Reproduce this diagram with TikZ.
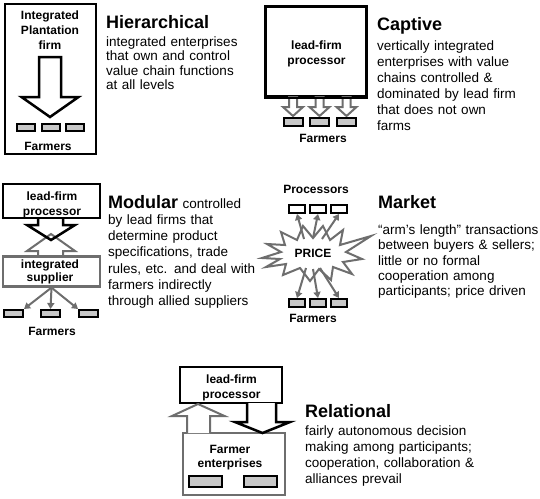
\documentclass[tikz,border=0pt]{standalone}
\usepackage{fontspec}
\setmainfont{Liberation Sans}
\usetikzlibrary{arrows.meta}
\definecolor{gline}{HTML}{6E6E6E}
\definecolor{gfill}{HTML}{C8C8C8}
\begin{document}
\begin{tikzpicture}[x=1pt,y=-1pt,
  title/.style={anchor=base west, inner sep=0pt, font=\fontsize{18}{20}\selectfont\bfseries},
  body/.style={anchor=base west, inner sep=0pt, align=left, text width=175pt},
  lbl/.style={anchor=base, inner sep=0pt, align=center, text width=100pt, font=\fontsize{12}{15}\selectfont\bfseries},
  farm/.style={draw=black, fill=gfill, line width=2pt, minimum width=19pt, minimum height=8pt, inner sep=0pt},
  proc/.style={farm, fill=white},
  gbox/.style={draw=gline, line width=2.2pt, inner sep=0pt},
  garrow/.style={draw=gline, line width=2pt, -{Triangle[length=6pt,width=7pt]}},
  hollowblk/.style={draw=black, line width=2.5pt, line join=miter, fill=white},
  hollowgry/.style={draw=gline, line width=2pt, line join=miter, fill=white},
]
\useasboundingbox (0,0) rectangle (540,498);
\fill[white] (0,0) rectangle (540,498);

% ---------------- Hierarchical
\node[draw=black, line width=2.8pt, minimum width=91pt, minimum height=150pt, inner sep=0pt] (hbox) at (50.5,79) {};
\draw[hollowblk] (39,57) -- (61,57) -- (61,97) -- (78.5,97) -- (50,117) -- (21.5,97) -- (39,97) -- cycle;
\node[farm, minimum width=18pt, minimum height=6.5pt] (hf1) at (26,127.5) {};
\node[farm, minimum width=18pt, minimum height=6.5pt] (hf2) at (51,127.5) {};
\node[farm, minimum width=18pt, minimum height=6.5pt] (hf3) at (75,127.5) {};
\node[lbl] (hlab) at (50,19.5) {Integrated\\Plantation\\firm};
\node[lbl] (hfarm) at (48,150) {Farmers};
\node[title] (hT) at (106,28) {Hierarchical};
\node[body, font=\fontsize{13.5}{14.5}\selectfont] (hB) at (106,46) {integrated enterprises\\that own and control\\value chain functions\\at all levels};

% ---------------- Captive
\node[draw=black, line width=2.8pt, minimum width=101pt, minimum height=90pt, inner sep=0pt] (cbox) at (316,51.5) {};
\foreach \c/\n in {293/1,319.5/2,346.5/3}{
  \draw[hollowgry] (\c-4,97) -- (\c+4,97) -- (\c+4,107) -- (\c+10,107) -- (\c,116) -- (\c-10,107) -- (\c-4,107) -- cycle;
  \node[farm, minimum height=8.5pt] (cf\n) at (\c,122) {};
}
\draw[black, line width=2.8pt] (cbox.south west) -- (cbox.south east);
\node[lbl] (clab) at (316.5,49.5) {lead-firm\\processor};
\node[lbl] (cfarm) at (323,142.7) {Farmers};
\node[title] (cT) at (377,30) {Captive};
\node[body, font=\fontsize{13.5}{16}\selectfont] (cB) at (377,50) {vertically integrated\\enterprises with value\\chains controlled \&\\dominated by lead firm\\that does not own\\farms};

% ---------------- Modular
\draw[gline, line width=2pt, line join=miter] (38,257) -- (38,251) -- (27,251) -- (51,234) -- (75,251) -- (63,251) -- (63,257);
\draw[black, line width=2.5pt, line join=miter] (38,218) -- (38,225) -- (27,225) -- (51,240) -- (75,225) -- (63,225) -- (63,218);
\node[draw=black, line width=2.8pt, minimum width=97pt, minimum height=34pt, inner sep=0pt] (mtop) at (51.5,201) {};
\node[gbox, minimum width=97pt, minimum height=30pt] (msup) at (51.5,271.5) {};
\node[farm, minimum height=7pt] (mf1) at (13.5,313.5) {};
\node[farm, minimum height=7pt] (mf2) at (50.5,313.5) {};
\node[farm, minimum height=7pt] (mf3) at (88.5,313.5) {};
\draw[garrow] (msup.south) -- (mf1.north east);
\draw[garrow] (msup.south) -- (mf2.north);
\draw[garrow] (msup.south) -- (mf3.north west);
\node[lbl] (mlab) at (52,200) {lead-firm\\processor};
\node[lbl, font=\fontsize{12}{13.5}\selectfont\bfseries] (slab) at (50,268.3) {integrated\\supplier};
\node[lbl] (mfarm) at (52,335) {Farmers};
\node[body, font=\fontsize{13.5}{16.3}\selectfont] (mB) at (108,208) {{\fontsize{18}{20}\selectfont\bfseries Modular} controlled\\by lead firms that\\determine product\\specifications, trade\\rules, etc. and deal with\\farmers indirectly\\through allied suppliers};

% ---------------- Market
\draw[draw=gline, line width=2pt, fill=white, line join=miter]
  (262,258) -- (281,252) -- (267,244) -- (285,245) -- (281,232) -- (297,240) -- (303,226) -- (313,238)
  -- (323,226) -- (330,240) -- (343,230) -- (340,245) -- (371,236) -- (346,252) -- (362,259) -- (343,262)
  -- (352,274) -- (333,267) -- (331,280) -- (319,269) -- (310,281) -- (300,268) -- (283,275) -- (286,264)
  -- (266,267) -- (280,259) -- cycle;
\coordinate (su1) at (304,239);
\coordinate (su2) at (313,238);
\coordinate (su3) at (322,239);
\coordinate (sd1) at (306,268);
\coordinate (sd2) at (313,269);
\coordinate (sd3) at (320,268);
\node[proc, minimum width=16.5pt] (mp1) at (297,209) {};
\node[proc, minimum width=16.5pt] (mp2) at (318,209) {};
\node[proc, minimum width=16.5pt] (mp3) at (339,209) {};
\node[farm, minimum width=16.5pt] (mk1) at (297,303) {};
\node[farm, minimum width=16.5pt] (mk2) at (318,303) {};
\node[farm, minimum width=16.5pt] (mk3) at (339,303) {};
\draw[garrow] (su1) -- (mp1.south);
\draw[garrow] (su2) -- (mp2.south);
\draw[garrow] (su3) -- (mp3.south);
\draw[garrow] (sd1) -- (mk1.north);
\draw[garrow] (sd2) -- (mk2.north);
\draw[garrow] (sd3) -- (mk3.north);
\node[lbl] (plab) at (316,193.3) {Processors};
\node[lbl] (price) at (313,257.5) {PRICE};
\node[lbl] (kfarm) at (313,322) {Farmers};
\node[title] (kT) at (378,208.5) {Market};
\node[body, font=\fontsize{13.5}{15.3}\selectfont] (kB) at (378,234.5) {“arm’s length” transactions\\between buyers \& sellers;\\little or no formal\\cooperation among\\participants; price driven};

% ---------------- Relational
\node[draw=black, line width=2.8pt, minimum width=102pt, minimum height=36pt, inner sep=0pt] (rtop) at (231,385) {};
\node[gbox, minimum width=102pt, minimum height=62pt] (rbot) at (234,464) {};
\draw[hollowgry] (187,433) -- (187,416) -- (172,416) -- (198,404) -- (224.5,416) -- (210,416) -- (210,433);
\draw[hollowblk] (247,403) -- (247,422) -- (235,422) -- (262.5,433) -- (290,422) -- (276,422) -- (276,403);
\node[farm, minimum width=33pt, minimum height=11pt] (rf1) at (205.5,481.5) {};
\node[farm, minimum width=33pt, minimum height=11pt] (rf2) at (260.5,481.5) {};
\node[lbl] (rlab) at (231.5,383) {lead-firm\\processor};
\node[lbl, font=\fontsize{12}{14}\selectfont\bfseries] (rflab) at (230,453) {Farmer\\enterprises};
\node[title] (rT) at (305,417) {Relational};
\node[body, font=\fontsize{13.5}{16}\selectfont] (rB) at (305,435.5) {fairly autonomous decision\\making among participants;\\cooperation, collaboration \&\\alliances prevail};
\end{tikzpicture}
\end{document}
